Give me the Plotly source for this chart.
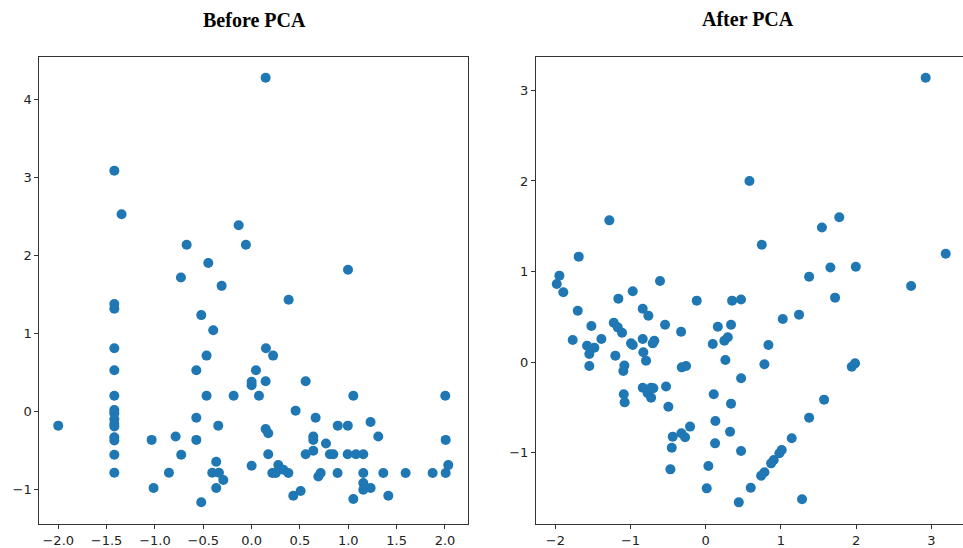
import plotly.graph_objects as go

# ---- Data: Before PCA ----
before_x = [0.145, -1.42, -1.345, -0.134, -0.672, -0.059, -0.448, 0.997, -0.731, -0.31,
            0.383, -1.42, -1.42, -0.521, -0.397, -1.42, 0.148, 0.222, -0.466, -1.42,
            -0.572, 0.045, 0.0, 0.0, 0.145, 0.559, -1.42, -0.466, -0.186, 0.076,
            1.052, 2.003, -1.42, -1.42, -1.42, -1.42, -1.42, 0.455, -0.572, 0.662,
            -2.0, -0.345, 0.145, 0.172, 0.891, 0.995, 1.23, -1.42, -1.42, -1.034,
            -0.786, -0.572, 0.638, 0.638, 1.31, 2.007, 0.769, -1.42, -0.728, 0.172,
            0.559, 0.638, 0.81, 0.845, 0.993, 1.079, 1.155, -0.366, 0.0, 0.276,
            0.214, 0.25, 0.293, 0.328, 0.380, 0.69, 0.714, 0.889, 1.155, 1.362,
            1.593, 1.872, 2.007, 2.034, -1.42, -0.855, -0.407, -0.338, -0.293, -0.366,
            -1.014, 1.155, 1.155, 1.231, 0.431, 0.507, 1.052, 1.414, -0.521]
before_y = [4.28, 3.09, 2.53, 2.39, 2.14, 2.14, 1.906, 1.82, 1.72, 1.613,
            1.434, 1.38, 1.32, 1.238, 1.043, 0.813, 0.813, 0.719, 0.719, 0.532,
            0.532, 0.532, 0.383, 0.34, 0.391, 0.391, 0.204, 0.204, 0.204, 0.204,
            0.204, 0.204, 0.02, -0.02, -0.098, -0.157, -0.191, 0.013, -0.077, -0.077,
            -0.179, -0.179, -0.221, -0.277, -0.179, -0.179, -0.132, -0.328, -0.37, -0.362,
            -0.319, -0.362, -0.319, -0.362, -0.319, -0.362, -0.409, -0.553, -0.553, -0.545,
            -0.545, -0.502, -0.545, -0.545, -0.545, -0.545, -0.545, -0.643, -0.694, -0.685,
            -0.787, -0.787, -0.736, -0.745, -0.787, -0.83, -0.787, -0.787, -0.787, -0.787,
            -0.787, -0.787, -0.787, -0.685, -0.783, -0.783, -0.783, -0.783, -0.877, -0.979,
            -0.979, -0.915, -1.0, -0.979, -1.077, -1.017, -1.119, -1.077, -1.162]

# ---- Data: After PCA ----
after_x = [2.924, 0.581, -1.282, 1.775, 1.544, 0.745, -1.689, 3.19, 1.657, 1.995,
           -1.946, 1.374, -0.608, -1.981, -1.894, 2.73, 1.719, -1.162, -0.971, -0.12,
           0.35, 0.469, -1.702, -0.838, -0.763, 1.24, 1.024, -1.521, -1.223, -1.17,
           -1.113, -0.541, -0.328, 0.16, 0.336, -1.769, -1.388, -1.578, -1.481, -1.548,
           -0.993, -0.971, -0.838, -0.705, -0.684, 0.093, 0.247, 0.293, 0.833, -1.202,
           -0.83, -0.794, 0.261, -1.548, -1.082, -1.096, -0.319, -0.262, 0.78, 1.941,
           1.985, 0.47, -0.838, -0.727, -0.771, -0.727, -0.697, -0.528, -1.09, -1.078,
           0.106, 1.573, -0.497, 0.336, 1.374, 0.128, -0.209, -0.439, -0.324, -0.275,
           0.323, 1.143, -0.452, 0.124, 0.469, 1.01, 0.979, 0.904, 0.869, 0.78,
           0.736, -0.47, 0.035, 0.013, 0.598, 0.439, 1.28]
after_y = [3.14, 2.0, 1.565, 1.60, 1.487, 1.295, 1.164, 1.196, 1.044, 1.053,
           0.954, 0.943, 0.895, 0.862, 0.77, 0.84, 0.711, 0.70, 0.781, 0.678,
           0.678, 0.69, 0.567, 0.589, 0.512, 0.523, 0.475, 0.398, 0.434, 0.383,
           0.324, 0.412, 0.335, 0.39, 0.412, 0.243, 0.254, 0.18, 0.158, 0.088,
           0.206, 0.188, 0.254, 0.206, 0.235, 0.199, 0.235, 0.273, 0.188, 0.07,
           0.107, 0.015, 0.022, -0.044, -0.04, -0.099, -0.059, -0.044, -0.025, -0.052,
           -0.015, -0.18, -0.284, -0.284, -0.346, -0.394, -0.291, -0.27, -0.357, -0.446,
           -0.357, -0.416, -0.494, -0.46, -0.615, -0.652, -0.714, -0.825, -0.788, -0.832,
           -0.77, -0.843, -0.947, -0.899, -0.983, -0.972, -1.009, -1.083, -1.12, -1.219,
           -1.256, -1.186, -1.149, -1.396, -1.389, -1.551, -1.517]

titles = ["Before PCA", "After PCA"]

left_xticks = [-2.0, -1.5, -1.0, -0.5, 0.0, 0.5, 1.0, 1.5, 2.0]
left_xlabels = ["\u22122.0", "\u22121.5", "\u22121.0", "\u22120.5", "0.0", "0.5", "1.0", "1.5", "2.0"]
left_yticks = [-1, 0, 1, 2, 3, 4]
left_ylabels = ["\u22121", "0", "1", "2", "3", "4"]
right_xticks = [-2, -1, 0, 1, 2, 3]
right_xlabels = ["\u22122", "\u22121", "0", "1", "2", "3"]
right_yticks = [-1, 0, 1, 2, 3]
right_ylabels = ["\u22121", "0", "1", "2", "3"]

W, H = 963, 548
BLUE = "#1f77b4"
AX = "#333333"

fig = go.Figure()
fig.add_trace(go.Scatter(x=before_x, y=before_y, mode="markers",
                         marker=dict(color=BLUE, size=10), xaxis="x", yaxis="y",
                         showlegend=False))
fig.add_trace(go.Scatter(x=after_x, y=after_y, mode="markers",
                         marker=dict(color=BLUE, size=10), xaxis="x2", yaxis="y2",
                         showlegend=False))

tickfont = dict(family="DejaVu Sans", size=13, color="#222222")
common = dict(showgrid=False, zeroline=False, showline=True, linecolor=AX, linewidth=1,
              ticks="outside", ticklen=4, tickcolor=AX, tickwidth=1, tickfont=tickfont,
              automargin=False)

ytop = 1 - 57 / H
ybot = 1 - 524 / H

fig.update_layout(
    width=W, height=H,
    margin=dict(l=0, r=0, t=0, b=0),
    paper_bgcolor="white", plot_bgcolor="white",
    xaxis=dict(domain=[39.3 / W, 468 / W], range=[-2.196, 2.238],
               tickvals=left_xticks, ticktext=left_xlabels, mirror=True, anchor="y", **common),
    yaxis=dict(domain=[ybot, ytop], range=[-1.44, 4.547],
               tickvals=left_yticks, ticktext=left_ylabels, mirror=True, anchor="x", **common),
    xaxis2=dict(domain=[536 / W, 1.0], range=[-2.257, 3.42],
                tickvals=right_xticks, ticktext=right_xlabels, mirror=True, anchor="y2", **common),
    yaxis2=dict(domain=[ybot, ytop], range=[-1.79, 3.37],
                tickvals=right_yticks, ticktext=right_ylabels, mirror=False, anchor="x2", **common),
    annotations=[
        dict(text="<b>%s</b>" % titles[0], x=255 / W, y=1 - 20 / H, xref="paper", yref="paper",
             xanchor="center", yanchor="middle", showarrow=False,
             font=dict(family="Liberation Serif", size=20, color="black")),
        dict(text="<b>%s</b>" % titles[1], x=748 / W, y=1 - 19 / H, xref="paper", yref="paper",
             xanchor="center", yanchor="middle", showarrow=False,
             font=dict(family="Liberation Serif", size=20, color="black")),
    ],
)

fig.write_html("out.html", config={"displayModeBar": False},
               post_script="document.body.style.margin='0px';document.body.style.overflow='hidden';")
